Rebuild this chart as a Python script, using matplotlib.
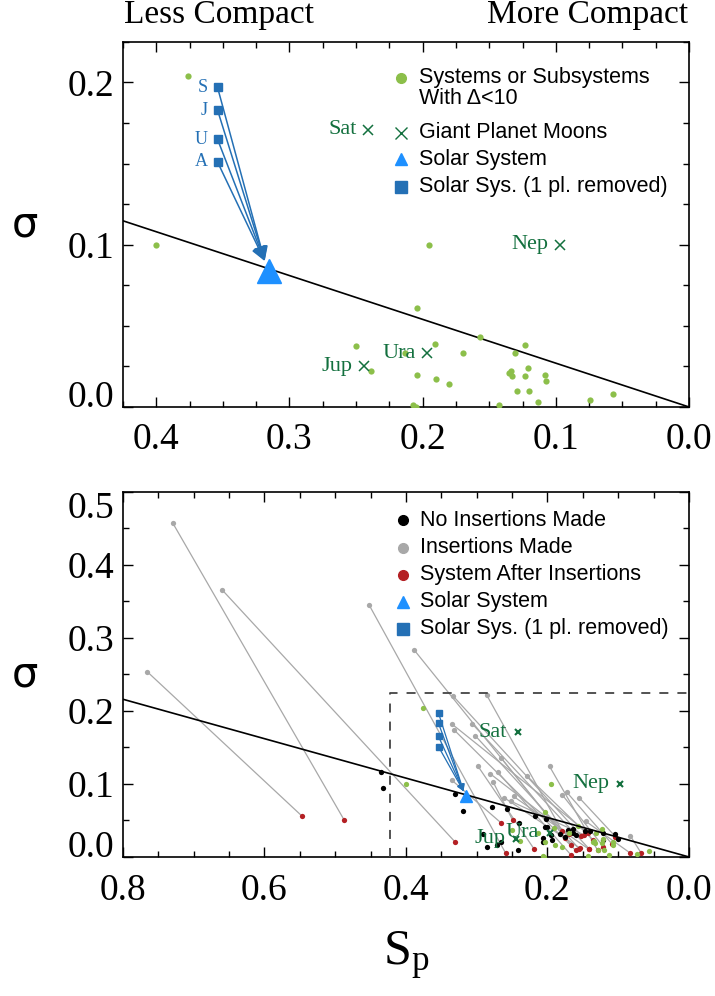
import matplotlib
matplotlib.use('Agg')
import matplotlib.pyplot as plt

plt.rcParams['font.family'] = ['Liberation Serif', 'DejaVu Serif']
plt.rcParams['mathtext.fontset'] = 'custom'
plt.rcParams['mathtext.rm'] = 'Liberation Serif'
plt.rcParams['mathtext.it'] = 'Liberation Serif'

# systems or subsystems with Delta < 10
green_sp = [0.376, 0.400, 0.195, 0.204, 0.250, 0.239, 0.213, 0.191, 0.204, 0.190,
            0.180, 0.170, 0.157, 0.131, 0.123, 0.121, 0.135, 0.134, 0.133, 0.123,
            0.108, 0.107, 0.129, 0.120, 0.113, 0.074, 0.057, 0.207, 0.205, 0.143]
green_sig = [0.204, 0.100, 0.0996, 0.061, 0.0375, 0.022, 0.033, 0.039, 0.020, 0.017,
             0.014, 0.033, 0.043, 0.033, 0.038, 0.024, 0.021, 0.022, 0.019, 0.019,
             0.020, 0.016, 0.010, 0.010, 0.003, 0.004, 0.008, 0.001, 0.000, 0.001]

# giant planet moon systems
moon_names = ['Sat', 'Nep', 'Jup', 'Ura']
moon_sp = [0.241, 0.097, 0.244, 0.197]
moon_sig = [0.171, 0.100, 0.025, 0.033]

# solar system and solar system with one planet removed
sol_sp, sol_sig = 0.315, 0.084
arrow_tip = (0.3186, 0.090)
rem_names = ['S', 'J', 'U', 'A']
rem_sp = [0.354, 0.354, 0.354, 0.354]
rem_sig = [0.197, 0.183, 0.165, 0.151]

# fit line and zoom box
fit_sp = [0.0, 0.8]
fit_sig = [0.0, 0.216]
box_sp = [0.423, 0.423, 0.0]
box_sig = [0.0, 0.225, 0.225]

# systems with no insertions made
black_sp = [0.435, 0.433, 0.331, 0.320, 0.278, 0.257, 0.240, 0.217, 0.202, 0.200,
            0.195, 0.206, 0.193, 0.206, 0.291, 0.286, 0.271, 0.266, 0.241, 0.204,
            0.182, 0.171, 0.164, 0.164, 0.147, 0.140, 0.122, 0.121, 0.105, 0.100,
            0.160, 0.175]
black_sig = [0.116, 0.094, 0.086, 0.063, 0.068, 0.066, 0.046, 0.056, 0.052, 0.041,
             0.030, 0.026, 0.023, 0.020, 0.031, 0.013, 0.017, 0.020, 0.009, 0.041,
             0.031, 0.037, 0.038, 0.033, 0.035, 0.035, 0.023, 0.033, 0.031, 0.024,
             0.030, 0.028]

# insertions made: original system -> system after insertions
gray_sp = [0.766, 0.730, 0.660, 0.452, 0.388, 0.333, 0.286, 0.335, 0.332, 0.306,
           0.302, 0.298, 0.281, 0.277, 0.270, 0.265, 0.261, 0.251, 0.248, 0.229,
           0.197, 0.179, 0.173, 0.155, 0.146, 0.083, 0.335]
gray_sig = [0.254, 0.458, 0.366, 0.345, 0.283, 0.220, 0.222, 0.182, 0.174, 0.182,
            0.166, 0.124, 0.114, 0.103, 0.116, 0.135, 0.081, 0.076, 0.083, 0.111,
            0.124, 0.085, 0.089, 0.081, 0.049, 0.029, 0.105]
red_sp = [0.547, 0.487, 0.331, 0.259, 0.167, 0.152, 0.179, 0.143, 0.160, 0.141,
          0.155, 0.219, 0.170, 0.249, 0.167, 0.175, 0.154, 0.148, 0.142, 0.135,
          0.129, 0.121, 0.109, 0.104, 0.084, 0.068, 0.266]
red_sig = [0.056, 0.050, 0.021, 0.005, 0.017, 0.029, 0.035, 0.033, 0.009, 0.011,
           0.011, 0.011, 0.031, 0.050, 0.003, 0.026, 0.012, 0.030, 0.011, 0.023,
           0.009, 0.014, 0.018, 0.028, 0.006, 0.006, 0.047]

GREEN = '#8cbf4a'
DKGREEN = '#13703e'
BLUE = '#1e90ff'
SQBLUE = '#2470b5'
RED = '#b42024'
GRAY = '#a8a8a8'
SANS = 'Liberation Sans'

fig = plt.figure(figsize=(7.15, 9.96), dpi=100)
ax1 = fig.add_axes([0.172, 0.5914, 0.7916, 0.3665])
ax2 = fig.add_axes([0.172, 0.1396, 0.7916, 0.3665])


def style_axes(ax, xmaj, xmin, ymaj, ymin, pad_x):
    ax.set_xticks(xmaj)
    ax.set_xticks(xmin, minor=True)
    ax.set_yticks(ymaj)
    ax.set_yticks(ymin, minor=True)
    ax.tick_params(which='both', direction='in', top=True, right=True,
                   labelsize=27, width=1.0)
    ax.tick_params(which='major', length=7)
    ax.tick_params(which='minor', length=4)
    ax.tick_params(axis='x', pad=pad_x)
    ax.tick_params(axis='y', pad=6)
    ax.xaxis.set_major_formatter(matplotlib.ticker.FormatStrFormatter('%.1f'))
    ax.yaxis.set_major_formatter(matplotlib.ticker.FormatStrFormatter('%.1f'))
    for s in ax.spines.values():
        s.set_linewidth(1.2)
    ticks = ax.yaxis.get_major_ticks()
    ticks[0].label1.set_va('baseline')
    ax.set_ylabel('σ', family='DejaVu Sans', fontsize=30, rotation=0,
                  va='center', ha='center')
    ax.yaxis.set_label_coords(-0.173, 0.5)


def legend_rows(ax, rows, xm, xt):
    for y, mk, col, ms, lab, va in rows:
        ax.plot([xm], [y], marker=mk, color=col, ms=ms, ls='none',
                transform=ax.transAxes, clip_on=False)
        ax.text(xt, y, lab, transform=ax.transAxes, va=va, ha='left',
                family=SANS, fontsize=15.5, linespacing=0.95)


# ---------------- top panel ----------------
ax1.plot(fit_sp, fit_sig, color='k', lw=1.2, zorder=2)
ax1.plot(green_sp, green_sig, 'o', color=GREEN, ms=4.5, mec='none', zorder=3)
ax1.plot(moon_sp, moon_sig, 'x', color=DKGREEN, ms=7, mew=1.1, zorder=3)
for n, x, y in zip(moon_names, moon_sp, moon_sig):
    ax1.annotate(n, (x, y), xytext=(-8, 0), textcoords='offset points',
                 ha='right', va='center', color=DKGREEN, fontsize=16)
for n, x, y in zip(rem_names, rem_sp, rem_sig):
    ax1.annotate('', xy=arrow_tip, xytext=(x, y),
                 arrowprops=dict(arrowstyle='-|>', color=SQBLUE, lw=1.1,
                                 mutation_scale=22, shrinkA=0, shrinkB=0),
                 zorder=4)
    ax1.annotate(n, (x, y), xytext=(-7, 0), textcoords='offset points',
                 ha='right', va='center', color=SQBLUE, fontsize=13)
ax1.plot(rem_sp, rem_sig, 's', color=SQBLUE, ms=6, zorder=5)
ax1.plot([sol_sp], [sol_sig], '^', color=BLUE, ms=17, zorder=6)
ax1.set_xlim(0.423, 0.0)
ax1.set_ylim(0.0, 0.225)
style_axes(ax1, [0.4, 0.3, 0.2, 0.1, 0.0],
           [0.425 - 0.025 * i for i in range(18)],
           [0.0, 0.1, 0.2], [0.025 * i for i in range(10)], 11)

legend_rows(ax1, [
    (0.901, 'o', GREEN, 7, 'Systems or Subsystems\nWith Δ<10', 'top'),
    (0.751, 'x', DKGREEN, 8, 'Giant Planet Moons', 'center'),
    (0.679, '^', BLUE, 8, 'Solar System', 'center'),
    (0.603, 's', SQBLUE, 8, 'Solar Sys. (1 pl. removed)', 'center'),
], 0.491, 0.523)
# first legend text: shift block so first line centres on marker
ax1.texts[-4].set_position((0.523, 0.930))

fig.text(0.173, 0.985, 'Less Compact', ha='left', va='center', fontsize=24)
fig.text(0.963, 0.985, 'More Compact', ha='right', va='center', fontsize=24)

# ---------------- bottom panel ----------------
for x0, y0, x1, y1 in zip(gray_sp, gray_sig, red_sp, red_sig):
    ax2.plot([x0, x1], [y0, y1], color=GRAY, lw=0.9, zorder=2)
ax2.plot(gray_sp, gray_sig, 'o', color=GRAY, ms=3.8, mec='none', zorder=3)
ax2.plot(red_sp, red_sig, 'o', color=RED, ms=3.8, mec='none', zorder=3)
ax2.plot(black_sp, black_sig, 'o', color='k', ms=3.8, mec='none', zorder=3)
ax2.plot(green_sp, green_sig, 'o', color=GREEN, ms=3.8, mec='none', zorder=3)
ax2.plot(fit_sp, fit_sig, color='k', lw=1.2, zorder=4)
ax2.plot(box_sp, box_sig, color='#444444', lw=1.3, ls=(0, (5, 5)), zorder=4)
ax2.plot(moon_sp, moon_sig, 'x', color=DKGREEN, ms=4, mew=1.5, zorder=5)
for n, x, y in zip(moon_names, moon_sp, moon_sig):
    ax2.annotate(n, (x, y), xytext=(-8, 0), textcoords='offset points',
                 ha='right', va='center', color=DKGREEN, fontsize=16, zorder=5)
for x, y in zip(rem_sp, rem_sig):
    ax2.annotate('', xy=arrow_tip, xytext=(x, y),
                 arrowprops=dict(arrowstyle='-|>', color=SQBLUE, lw=0.9,
                                 mutation_scale=10, shrinkA=0, shrinkB=0),
                 zorder=5)
ax2.plot(rem_sp, rem_sig, 's', color=SQBLUE, ms=4, zorder=6)
ax2.plot([sol_sp], [sol_sig], '^', color=BLUE, ms=9, zorder=6)
ax2.set_xlim(0.8, 0.0)
ax2.set_ylim(0.0, 0.5)
style_axes(ax2, [0.8, 0.6, 0.4, 0.2, 0.0],
           [0.05 * i for i in range(17)],
           [0.0, 0.1, 0.2, 0.3, 0.4, 0.5], [0.05 * i for i in range(11)], 12)
ax2.yaxis.get_major_ticks()[-1].label1.set_va('top')
ax2.set_xlabel(r'$\mathrm{S_p}$', fontsize=36)
ax2.xaxis.set_label_coords(0.5, -0.2)

legend_rows(ax2, [
    (0.923, 'o', 'k', 7, 'No Insertions Made', 'center'),
    (0.847, 'o', GRAY, 7, 'Insertions Made', 'center'),
    (0.773, 'o', RED, 7, 'System After Insertions', 'center'),
    (0.699, '^', BLUE, 8, 'Solar System', 'center'),
    (0.625, 's', SQBLUE, 8, 'Solar Sys. (1 pl. removed)', 'center'),
], 0.495, 0.525)

fig.savefig('out.png', dpi=100)
